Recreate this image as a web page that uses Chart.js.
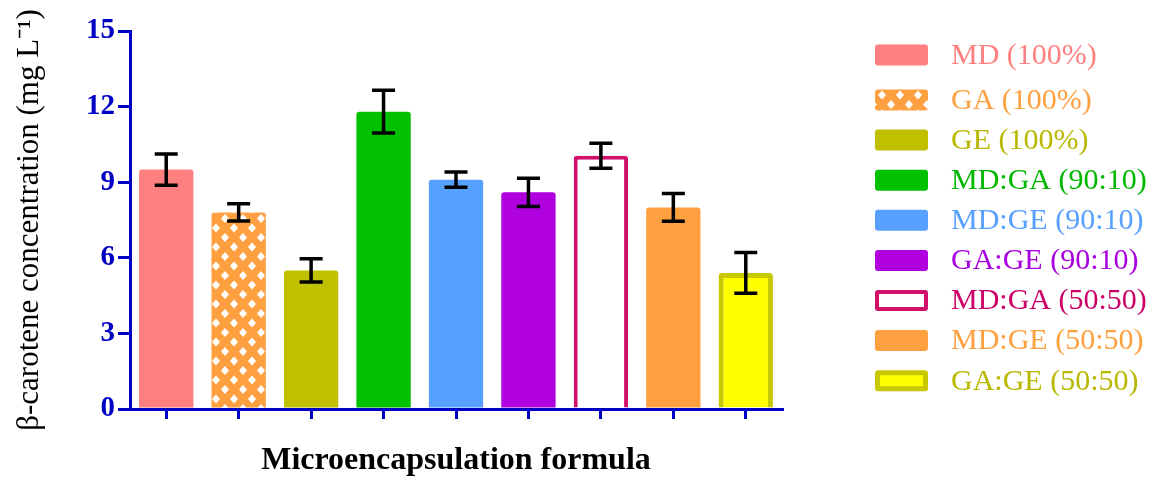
<!DOCTYPE html>
<html>
<head>
<meta charset="utf-8">
<script src="https://cdn.jsdelivr.net/npm/chart.js@4.4.1/dist/chart.umd.min.js"></script>
<style>
  html, body { margin: 0; padding: 0; background: #ffffff; }
  #chart { display: block; }
</style>
</head>
<body>
<canvas id="chart" width="1159" height="482"></canvas>
<script>
// Data
const formulas = ['MD (100%)', 'GA (100%)', 'GE (100%)', 'MD:GA (90:10)', 'MD:GE (90:10)',
                  'GA:GE (90:10)', 'MD:GA (50:50)', 'MD:GE (50:50)', 'GA:GE (50:50)'];
const caroteneMean = [9.5, 7.8, 5.5, 11.8, 9.1, 8.6, 10.05, 8.0, 5.4];
const caroteneSD = [0.62, 0.34, 0.46, 0.85, 0.3, 0.56, 0.5, 0.55, 0.81];
const yTickValues = [0, 3, 6, 9, 12, 15];

// Styling
const SERIF = "'Liberation Serif', 'Times New Roman', serif";
const AXIS_BLUE = '#0000c4';
const fillColors = ['#ff8080', 'pattern', '#c0c000', '#00c000', '#58a0ff',
                    '#b000e0', '#ffffff', '#ffa040', '#ffff00'];
const edgeColors = ['#ff8080', '#ffa040', '#c0c000', '#00c000', '#58a0ff',
                    '#b000e0', '#d0106a', '#ffa040', '#c8c800'];
const edgeWidths = [0, 0, 0, 0, 0, 0, 4, 0, 5];
const textColors = ['#ff8080', '#ffa040', '#b8b800', '#00b800', '#58a0ff',
                    '#a800e0', '#cc0066', '#ffa040', '#b8b800'];

// Orange crosshatch with white diamonds, for GA (100%)
function makeDiamondPattern(ctx) {
    const tile = document.createElement('canvas');
    tile.width = 18;
    tile.height = 19;
    const t = tile.getContext('2d');
    t.fillStyle = '#ffa040';
    t.fillRect(0, 0, 18, 19);
    t.fillStyle = '#ffffff';
    const diamond = (cx, cy) => {
        t.beginPath();
        t.moveTo(cx, cy - 4.5);
        t.lineTo(cx + 4, cy);
        t.lineTo(cx, cy + 4.5);
        t.lineTo(cx - 4, cy);
        t.closePath();
        t.fill();
    };
    diamond(9, 9.5);
    diamond(0, 0); diamond(18, 0); diamond(0, 19); diamond(18, 19);
    return ctx.createPattern(tile, 'repeat');
}

const canvas = document.getElementById('chart');
const ctx = canvas.getContext('2d');
const gaPattern = makeDiamondPattern(ctx);
const barFills = fillColors.map(c => c === 'pattern' ? gaPattern : c);

// Error bars drawn through the y scale
const errorBars = {
    id: 'errorBars',
    afterDatasetsDraw(chart) {
        const meta = chart.getDatasetMeta(0);
        const y = chart.scales.y;
        const c = chart.ctx;
        c.save();
        c.strokeStyle = '#000000';
        c.lineWidth = 3.5;
        meta.data.forEach((bar, i) => {
            const top = y.getPixelForValue(caroteneMean[i] + caroteneSD[i]);
            const bot = y.getPixelForValue(caroteneMean[i] - caroteneSD[i]);
            c.beginPath();
            c.moveTo(bar.x, top); c.lineTo(bar.x, bot);
            c.moveTo(bar.x - 11.5, top); c.lineTo(bar.x + 11.5, top);
            c.moveTo(bar.x - 11.5, bot); c.lineTo(bar.x + 11.5, bot);
            c.stroke();
        });
        c.restore();
    }
};

// Legend on the right, with coloured text
const sideLegend = {
    id: 'sideLegend',
    afterDraw(chart) {
        const c = chart.ctx;
        c.save();
        c.font = '30px ' + SERIF;
        c.textBaseline = 'middle';
        formulas.forEach((name, i) => {
            const cy = i === 0 ? 55 : 100 + (i - 1) * 40.1;
            const bx = 875, bw = 53, bh = 21;
            c.beginPath();
            c.roundRect(bx, cy - bh / 2, bw, bh, 3);
            c.fillStyle = edgeWidths[i] ? edgeColors[i] : barFills[i];
            c.fill();
            if (edgeWidths[i]) {
                const w = edgeWidths[i];
                c.fillStyle = fillColors[i];
                c.fillRect(bx + w, cy - bh / 2 + w, bw - 2 * w, bh - 2 * w);
            }
            c.fillStyle = textColors[i];
            c.fillText(name, 951, cy + 1);
        });
        c.restore();
    }
};

new Chart(canvas, {
    type: 'bar',
    data: {
        labels: formulas,
        datasets: [{
            data: caroteneMean,
            backgroundColor: barFills,
            borderColor: edgeColors,
            borderWidth: edgeWidths,
            borderSkipped: 'start',
            borderRadius: 3,
            barPercentage: 0.75,
            categoryPercentage: 1.0
        }]
    },
    options: {
        responsive: false,
        animation: false,
        devicePixelRatio: 1,
        layout: { padding: { top: 31, right: 377, bottom: 0, left: 0 } },
        plugins: {
            legend: { display: false },
            tooltip: { enabled: false }
        },
        scales: {
            x: {
                afterFit: s => { s.height = 73; },
                border: { display: true, color: AXIS_BLUE, width: 3 },
                grid: {
                    offset: false,
                    drawOnChartArea: false,
                    drawTicks: true,
                    tickLength: 10,
                    color: AXIS_BLUE,
                    lineWidth: 3
                },
                ticks: { display: false },
                title: {
                    display: true,
                    text: 'Microencapsulation formula',
                    color: '#000000',
                    font: { family: SERIF, size: 32, weight: 'bold' },
                    padding: { top: 0, bottom: 2 }
                }
            },
            y: {
                min: 0,
                max: 15,
                afterFit: s => { s.width = 130; },
                afterBuildTicks: s => { s.ticks = yTickValues.map(v => ({ value: v })); },
                border: { display: true, color: AXIS_BLUE, width: 3 },
                grid: {
                    drawOnChartArea: false,
                    drawTicks: true,
                    tickLength: 12,
                    color: AXIS_BLUE,
                    lineWidth: 3
                },
                ticks: {
                    color: AXIS_BLUE,
                    padding: 3,
                    font: { family: SERIF, size: 29, weight: 'bold' }
                },
                title: {
                    display: true,
                    text: 'β-carotene concentration (mg L⁻¹)',
                    color: '#000000',
                    font: { family: SERIF, size: 31 },
                    padding: { top: 11, bottom: 0 }
                }
            }
        }
    },
    plugins: [errorBars, sideLegend]
});
</script>
</body>
</html>
